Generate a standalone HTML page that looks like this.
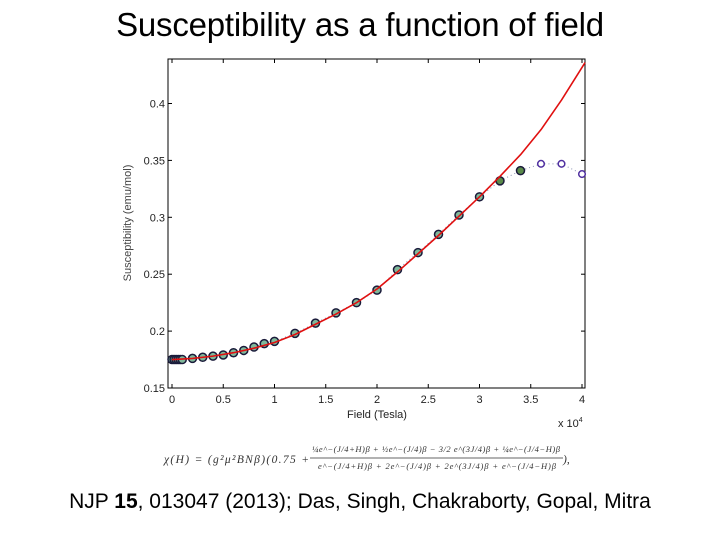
<!DOCTYPE html>
<html><head><meta charset="utf-8"><style>
body{margin:0;background:#fff;width:720px;height:540px;overflow:hidden;font-family:"Liberation Sans",sans-serif}
#title{position:absolute;left:0;width:720px;top:6px;text-align:center;font-size:33px;color:#000;letter-spacing:-0.2px}
#cap{position:absolute;left:0;width:720px;top:490px;text-align:center;font-size:21px;color:#000}
svg{position:absolute;left:0;top:0}
</style></head><body>
<div id="title">Susceptibility as a function of field</div>
<svg id="chart" width="720" height="540"></svg>
<div id="cap">NJP <b>15</b>, 013047 (2013); Das, Singh, Chakraborty, Gopal, Mitra</div>
<script>
const xTicks=[0,0.5,1,1.5,2,2.5,3,3.5,4];
const xTickLabels=["0","0.5","1","1.5","2","2.5","3","3.5","4"];
const yTicks=[0.15,0.2,0.25,0.3,0.35,0.4];
const yTickLabels=["0.15","0.2","0.25","0.3","0.35","0.4"];
const fieldFilled=[0,0.02,0.04,0.06,0.08,0.1,0.2,0.3,0.4,0.5,0.6,0.7,0.8,0.9,1.0,1.2,1.4,1.6,1.8,2.0,2.2,2.4,2.6,2.8,3.0,3.2,3.4];
const suscFilled=[0.175,0.175,0.175,0.175,0.175,0.175,0.176,0.177,0.178,0.179,0.181,0.183,0.186,0.189,0.191,0.198,0.207,0.216,0.225,0.236,0.254,0.269,0.285,0.302,0.318,0.332,0.341];
const fieldOpen=[3.6,3.8,4.0];
const suscOpen=[0.347,0.347,0.338];
const fitField=[0,0.2,0.4,0.6,0.8,1.0,1.2,1.4,1.6,1.8,2.0,2.2,2.4,2.6,2.8,3.0,3.2,3.4,3.6,3.8,4.03];
const fitSusc=[0.175,0.176,0.178,0.181,0.185,0.190,0.197,0.206,0.215,0.225,0.237,0.252,0.268,0.284,0.301,0.318,0.336,0.355,0.377,0.403,0.436];

const NS="http://www.w3.org/2000/svg";
const svg=document.getElementById('chart');
const L=168,R=585,T=59,B=388;
const X=v=>172+v*102.5;
const Y=v=>388-(v-0.15)/0.05*56.9;
function el(t,a,p){const e=document.createElementNS(NS,t);for(const k in a)e.setAttribute(k,a[k]);(p||svg).appendChild(e);return e;}
const frame=el('rect',{x:L,y:T,width:R-L,height:B-T,fill:'#fff',stroke:'#000','stroke-width':1});


xTicks.forEach((v,i)=>{
  const x=X(v);
  el('line',{x1:x,x2:x,y1:B,y2:B-4,stroke:'#000'});
  el('line',{x1:x,x2:x,y1:T,y2:T+4,stroke:'#000'});
  const t=el('text',{x:x,y:B+15,'font-size':11,'text-anchor':'middle',fill:'#222'});
  t.textContent=xTickLabels[i];
  
  
});
yTicks.forEach((v,i)=>{
  const y=Y(v);
  el('line',{x1:L,x2:L+4,y1:y,y2:y,stroke:'#000'});
  el('line',{x1:R,x2:R-4,y1:y,y2:y,stroke:'#000'});
  const t=el('text',{x:L-3,y:y+4,'font-size':11,'text-anchor':'end',fill:'#222'});
  t.textContent=yTickLabels[i];
  
  
});
const xt=el('text',{x:377,y:418,'font-size':11,'text-anchor':'middle',fill:'#222'});
xt.textContent='Field (Tesla)';


const xs=el('text',{x:558,y:427,'font-size':11,fill:'#222'});
xs.innerHTML='x 10<tspan dy="-5" font-size="7">4</tspan>';


const yt=el('text',{x:0,y:0,'font-size':11,'text-anchor':'middle',fill:'#444',transform:'translate(131,223) rotate(-90)'});
yt.textContent='Susceptibility (emu/mol)';


const allX=fieldFilled.concat(fieldOpen),allY=suscFilled.concat(suscOpen);
const dl=el('polyline',{points:allX.map((v,i)=>X(v)+','+Y(allY[i])).join(' '),fill:'none',stroke:'#8890b0','stroke-width':1,'stroke-dasharray':'1,3'});


fieldFilled.forEach((v,i)=>{
  const c=el('circle',{cx:X(v),cy:Y(suscFilled[i]),r:4,fill:i>=25?'#5a8a4a':'#7fb89a',stroke:'#1a1a3a','stroke-width':1.5});
  
  
});
fieldOpen.forEach((v,i)=>{
  const c=el('circle',{cx:X(v),cy:Y(suscOpen[i]),r:3.3,fill:'#fff',stroke:'#5030a0','stroke-width':1.5});
  
  
});
const fit=el('polyline',{points:fitField.map((v,i)=>X(v)+','+Y(fitSusc[i])).join(' '),fill:'none',stroke:'#e01010','stroke-width':1.6,'stroke-linejoin':'round'});


const g=el('g',{'font-family':'Liberation Serif,serif',fill:'#333'});


const f1=el('text',{x:164,y:463,'font-size':11.5,'font-style':'italic',textLength:145},g);
f1.textContent='χ(H) = (g²μ²BNβ)(0.75 +';
const fn=el('text',{x:312,y:452,'font-size':8.5,'font-style':'italic',textLength:248},g);
fn.textContent='¼e^−(J/4+H)β + ½e^−(J/4)β − 3/2 e^(3J/4)β + ¼e^−(J/4−H)β';
el('line',{x1:310,x2:563,y1:458,y2:458,stroke:'#333','stroke-width':0.8},g);
const fd=el('text',{x:318,y:469,'font-size':8.5,'font-style':'italic',textLength:238},g);
fd.textContent='e^−(J/4+H)β + 2e^−(J/4)β + 2e^(3J/4)β + e^−(J/4−H)β';
const f2=el('text',{x:563,y:463,'font-size':11.5,'font-style':'italic'},g);
f2.textContent='),';
</script>
</body></html>
